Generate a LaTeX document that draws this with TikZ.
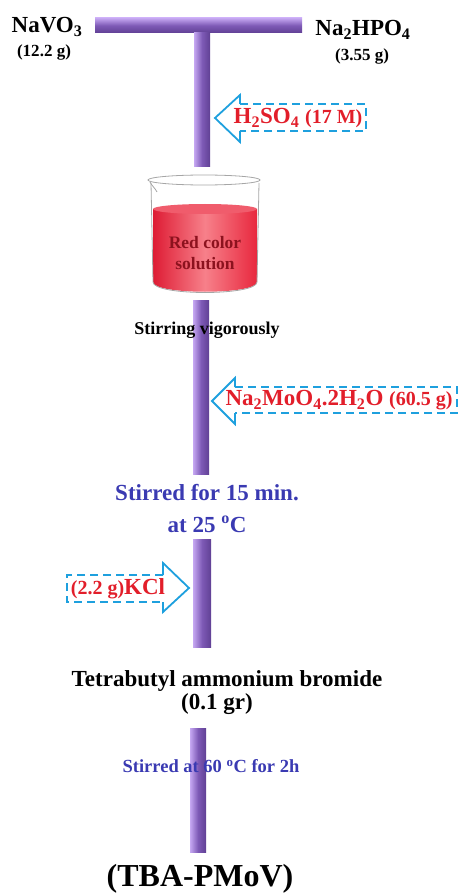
\documentclass[tikz,border=0pt]{standalone}
\usepackage{fontspec}
\setmainfont{Liberation Serif}
\usetikzlibrary{positioning}
\definecolor{barlight}{RGB}{198,168,242}
\definecolor{barmid}{RGB}{126,90,182}
\definecolor{bardark}{RGB}{96,64,148}
\definecolor{arrowblue}{RGB}{30,160,222}
\definecolor{chemred}{RGB}{226,30,42}
\definecolor{stepblue}{RGB}{58,58,178}
\definecolor{liquiddark}{RGB}{222,28,52}
\definecolor{liquidred}{RGB}{232,40,62}
\definecolor{liquidlight}{RGB}{247,128,138}
\definecolor{liquidtop}{RGB}{240,92,108}
\definecolor{solutiontext}{RGB}{140,18,30}
\newcommand{\chsub}[1]{\textsubscript{#1}}

\begin{document}
\begin{tikzpicture}[x=1pt,y=-1pt,
		vbar/.style={left color=barlight,right color=bardark,middle color=barmid},
		hbar/.style={top color=barlight,bottom color=bardark,middle color=barmid},
		bigtxt/.style={font=\bfseries\fontsize{23}{27}\selectfont},
		masstxt/.style={font=\bfseries\fontsize{17}{20}\selectfont},
		headline/.style={draw=arrowblue,line width=1.8pt,line join=miter},
		dashline/.style={headline,dash pattern=on 8pt off 5pt}]
	\useasboundingbox (0,0) rectangle (465,893);
	\shade[hbar] (95,18) rectangle (302,33);
	\shade[vbar] (194,33) rectangle (210,167);
	\shade[vbar] (193,300) rectangle (209,474);
	\shade[vbar] (193,539) rectangle (211,647);
	\shade[vbar] (190,728) rectangle (206,852);
	\node[bigtxt] (navo) at (47,27) {NaVO\chsub{3}};
	\node[masstxt] (navomass) at (44,52) {(12.2 g)};
	\node[bigtxt] (naphos) at (363,30) {Na\chsub{2}HPO\chsub{4}};
	\node[masstxt] (naphosmass) at (362,56) {(3.55 g)};
	\draw[headline] (240,104) -- (240,95) -- (215,118) -- (240,142) -- (240,131);
	\draw[dashline] (240,104) -- (366,104) -- (366,131) -- (240,131);
	\node[bigtxt,text=chemred] (acid) at (298,118) {H\chsub{2}SO\chsub{4} {\fontsize{20}{24}\selectfont(17 M)}};
	\shade[left color=liquiddark,right color=liquidred,middle color=liquidlight] (153,209) -- (153,282) .. controls (153,295) and (257,295) .. (257,282) -- (257,209) -- cycle;
	\fill[liquidtop] (205,209) ellipse (52 and 5);
	\draw[gray!70,line width=0.8pt] (151,183) -- (153,282) .. controls (153,296) and (257,296) .. (257,282) -- (259,183);
	\draw[gray!70,line width=0.8pt] (204,180) ellipse (56 and 5);
	\draw[gray!70,line width=0.8pt] (150,182) .. controls (152,186) and (155,188) .. (157,192);
	\node[font=\bfseries\fontsize{17.5}{21}\selectfont,text=solutiontext,align=center] (solution) at (205,253) {Red color\\solution};
	\node[font=\bfseries\fontsize{18}{22}\selectfont] (stir) at (207,330) {Stirring vigorously};
	\draw[headline] (235,387) -- (235,378) -- (212,401) -- (235,424) -- (235,413);
	\draw[dashline] (235,387) -- (457,387) -- (457,413) -- (235,413);
	\node[bigtxt,text=chemred] (molyb) at (339,400) {Na\chsub{2}MoO\chsub{4}.2H\chsub{2}O {\fontsize{20}{24}\selectfont(60.5 g)}};
	\node[font=\bfseries\fontsize{23}{32}\selectfont,text=stepblue,align=center] (stirone) at (207,509) {Stirred for 15 min.\\at 25 \textsuperscript{o}C};
	\draw[headline] (163,575) -- (163,563) -- (189,588) -- (163,612) -- (163,602);
	\draw[dashline] (163,575) -- (67,575) -- (67,602) -- (163,602);
	\node[text=chemred,font=\bfseries] (kcl) at (118,589) {{\fontsize{20}{24}\selectfont(2.2 g)}{\fontsize{23}{27}\selectfont KCl}};
	\node[bigtxt] (tba) at (227,681) {Tetrabutyl ammonium bromide};
	\node[bigtxt] (tbamass) at (217,704) {(0.1 gr)};
	\node[font=\bfseries\fontsize{18.5}{22}\selectfont,text=stepblue] (stirtwo) at (211,766) {Stirred at 60 \textsuperscript{o}C for 2h};
	\node[font=\bfseries\fontsize{32}{38}\selectfont] (product) at (200,879) {(TBA-PMoV)};
\end{tikzpicture}
\end{document}
